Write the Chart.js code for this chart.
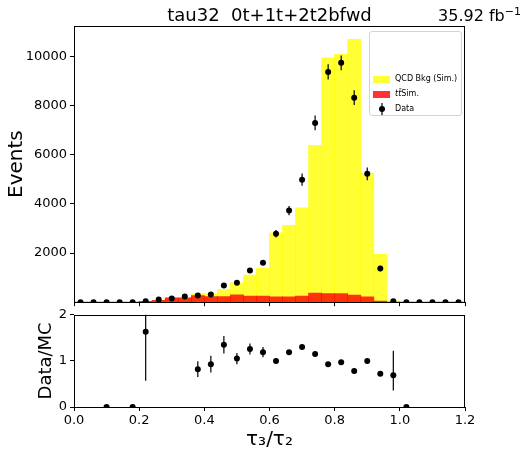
<!DOCTYPE html>
<html><head><meta charset="utf-8">
<script src="https://cdn.jsdelivr.net/npm/chart.js@4.4.0/dist/chart.umd.min.js"></script>
<style>
html,body{margin:0;padding:0;background:#fff;width:530px;height:458px;overflow:hidden;font-family:"DejaVu Sans",sans-serif;}
#wrap{position:relative;width:530px;height:458px;}
canvas{position:absolute;left:0;}
#main{top:0;}
#ratio{top:304px;}
.t{position:absolute;white-space:pre;color:#000;line-height:1;}
#title{left:0;width:539px;text-align:center;top:6px;font-size:18px;}
#lumi{right:9px;top:8px;font-size:16px;}
#lumi sup{font-size:11px;vertical-align:6px;line-height:0;}
#legend{position:absolute;left:369px;top:31px;width:91px;height:83px;border:1px solid #d3d3d3;border-radius:3px;background:rgba(255,255,255,0.8);font-size:8px;}
.le{position:absolute;left:0;height:10px;width:91px;}
.patch{position:absolute;left:3px;width:17px;height:7px;}
.lt{position:absolute;left:25px;top:0;white-space:pre;line-height:10px;}
</style></head>
<body><div id="wrap">
<canvas id="main" width="530" height="313"></canvas>
<canvas id="ratio" width="530" height="154"></canvas>
<div id="title" class="t">tau32  0t+1t+2t2bfwd</div>
<div id="lumi" class="t">35.92 fb<sup>−1</sup></div>
<div id="legend">
  <div class="le" style="top:42px"><div class="patch" style="top:1.5px;background:rgba(255,255,0,0.8)"></div><div class="lt">QCD Bkg (Sim.)</div></div>
  <div class="le" style="top:57px"><div class="patch" style="top:2px;background:rgba(255,0,0,0.8)"></div><div class="lt"><i>tt̄</i>Sim.</div></div>
  <div class="le" style="top:72px"><svg style="position:absolute;left:6px;top:-2px" width="12" height="14"><line x1="6" y1="1" x2="6" y2="13" stroke="#000" stroke-width="1.2"/><circle cx="6" cy="7" r="3" fill="#000"/></svg><div class="lt">Data</div></div>
</div>
</div>
<script>
const binCenters = [0.02,0.06,0.10,0.14,0.18,0.22,0.26,0.30,0.34,0.38,0.42,0.46,0.50,0.54,0.58,0.62,0.66,0.70,0.74,0.78,0.82,0.86,0.90,0.94,0.98,1.02,1.06,1.10,1.14,1.18];
const qcdSim   = [0,0,3,0,3,30,75,180,180,345,340,520,790,1100,1380,2820,3130,3840,6390,9950,10090,10700,5250,1950,58,10,0,0,0,0];
const ttbarSim = [0,0,3,0,3,30,70,180,180,270,225,225,300,250,250,215,215,245,370,345,345,290,215,45,5,0,0,0,0,0];
const dataEvents = [0,0,0,0,0,40,110,150,230,270,310,680,790,1290,1610,2790,3730,4990,7300,9380,9750,8330,5230,1370,40,0,0,0,0,0];
const dataErr    = [0,0,0,0,0,0,0,0,0,0,0,0,0,60,70,150,190,250,300,310,300,300,260,110,0,0,0,0,0,0];
const ratioVals  = [null,null,0,null,0,1.63,null,null,null,0.82,0.93,1.35,1.05,1.26,1.19,1.00,1.19,1.30,1.15,0.93,0.97,0.78,1.00,0.72,0.69,0,null,null,null,null];
const ratioErrLo = [0,0,0,0,0,1.06,0,0,0,0.17,0.18,0.19,0.12,0.12,0.11,0.04,0.04,0.03,0.03,0.03,0.03,0.03,0.03,0.05,0.33,0,0,0,0,0];
const ratioErrHi = [0,0,0,0,0,1.06,0,0,0,0.17,0.18,0.19,0.12,0.12,0.11,0.04,0.04,0.03,0.03,0.03,0.03,0.03,0.03,0.05,0.53,0,0,0,0,0];
const xTicks = [0,0.2,0.4,0.6,0.8,1.0,1.2];
const yTicksMain = [2000,4000,6000,8000,10000];
const yTicksRatio = [0,1,2];

Chart.defaults.font.family = "'DejaVu Sans', sans-serif";
Chart.defaults.color = '#000';
Chart.defaults.animation = false;

const pts = (ys) => binCenters.map((x, i) => ({x: x, y: ys[i]}));

const frame = {
  id: 'frame',
  afterDraw(chart) {
    const a = chart.chartArea, c = chart.ctx;
    c.save(); c.strokeStyle = '#000'; c.lineWidth = 1;
    c.strokeRect(Math.round(a.left) + 0.5, Math.round(a.top) + 0.5, Math.round(a.right - a.left) - 1, Math.round(a.bottom - a.top));
    c.restore();
  }
};
const errBars = {
  id: 'errBars',
  afterDatasetsDraw(chart, args, opts) {
    const c = chart.ctx, a = chart.chartArea, ys = chart.scales.y;
    const meta = chart.getDatasetMeta(opts.dataset);
    c.save();
    c.beginPath(); c.rect(a.left, a.top, a.right - a.left, a.bottom - a.top); c.clip();
    c.strokeStyle = '#000'; c.lineWidth = 1.2;
    meta.data.forEach((el, i) => {
      const v = opts.values[i];
      if (v === null || v === undefined) return;
      const lo = opts.lo[i], hi = opts.hi[i];
      if (!lo && !hi) return;
      c.beginPath();
      c.moveTo(el.x, ys.getPixelForValue(v - lo));
      c.lineTo(el.x, ys.getPixelForValue(v + hi));
      c.stroke();
    });
    c.restore();
  }
};
const tickSet = (list) => (s) => { s.ticks = list.map(v => ({value: v})); };
const gridOpts = {drawOnChartArea: false, drawTicks: true, tickLength: 4, color: '#000', lineWidth: 1};

new Chart(document.getElementById('main'), {
  type: 'bar',
  data: {
    datasets: [
      {type: 'line', label: 'Data', data: pts(dataEvents), showLine: false, pointRadius: 3, pointHoverRadius: 3,
       backgroundColor: '#000', borderColor: '#000', pointBorderWidth: 0, order: 0, clip: 0},
      {label: 'tt Sim.', data: pts(ttbarSim), backgroundColor: 'rgba(255,0,0,0.8)', order: 1,
       barPercentage: 1, categoryPercentage: 1, grouped: false, borderWidth: 0, inflateAmount: 0.4},
      {label: 'QCD Bkg (Sim.)', data: pts(qcdSim), backgroundColor: 'rgba(255,255,0,0.8)', order: 2,
       barPercentage: 1, categoryPercentage: 1, grouped: false, borderWidth: 0, inflateAmount: 0.4}
    ]
  },
  options: {
    responsive: false, devicePixelRatio: 1,
    layout: {padding: {top: 26, right: 65, left: 0, bottom: 0}},
    plugins: {legend: {display: false}, tooltip: {enabled: false},
      errBars: {dataset: 0, values: dataEvents, lo: dataErr, hi: dataErr}},
    scales: {
      x: {type: 'linear', min: 0, max: 1.2, offset: false, stacked: false,
          afterBuildTicks: tickSet(xTicks), afterFit: (s) => { s.height = 7.5; },
          ticks: {display: false}, grid: Object.assign({offset: false}, gridOpts), border: {display: false}},
      y: {type: 'linear', min: 0, max: 11250, stacked: false,
          afterBuildTicks: tickSet(yTicksMain), afterFit: (s) => { s.width = 74; },
          ticks: {font: {size: 13}, padding: 3, callback: (v) => String(v)},
          grid: gridOpts, border: {display: false},
          title: {display: true, text: 'Events', font: {size: 20}, padding: {top: 5, bottom: 0}}}
    }
  },
  plugins: [frame, errBars]
});

new Chart(document.getElementById('ratio'), {
  type: 'scatter',
  data: {
    datasets: [
      {label: 'Data/MC', data: pts(ratioVals), showLine: false, pointRadius: 3, pointHoverRadius: 3,
       backgroundColor: '#000', borderColor: '#000', pointBorderWidth: 0, clip: 0}
    ]
  },
  options: {
    responsive: false, devicePixelRatio: 1,
    layout: {padding: {top: 10, right: 65, left: 0, bottom: 0}},
    plugins: {legend: {display: false}, tooltip: {enabled: false},
      errBars: {dataset: 0, values: ratioVals, lo: ratioErrLo, hi: ratioErrHi}},
    scales: {
      x: {type: 'linear', min: 0, max: 1.2,
          afterBuildTicks: tickSet(xTicks), afterFit: (s) => { s.height = 51; },
          ticks: {font: {size: 13}, padding: 2, maxRotation: 0, callback: (v) => Number(v).toFixed(1)},
          grid: gridOpts, border: {display: false},
          title: {display: true, text: 'τ₃/τ₂', font: {size: 20}, padding: {top: 0, bottom: 6}}},
      y: {type: 'linear', min: 0, max: 2,
          afterBuildTicks: tickSet(yTicksRatio), afterFit: (s) => { s.width = 74; },
          ticks: {font: {size: 13}, padding: 3, callback: (v) => String(v)},
          grid: gridOpts, border: {display: false},
          title: {display: true, text: 'Data/MC', font: {size: 18}, padding: {top: 36, bottom: 0}}}
    }
  },
  plugins: [frame, errBars]
});
</script>
</body></html>
